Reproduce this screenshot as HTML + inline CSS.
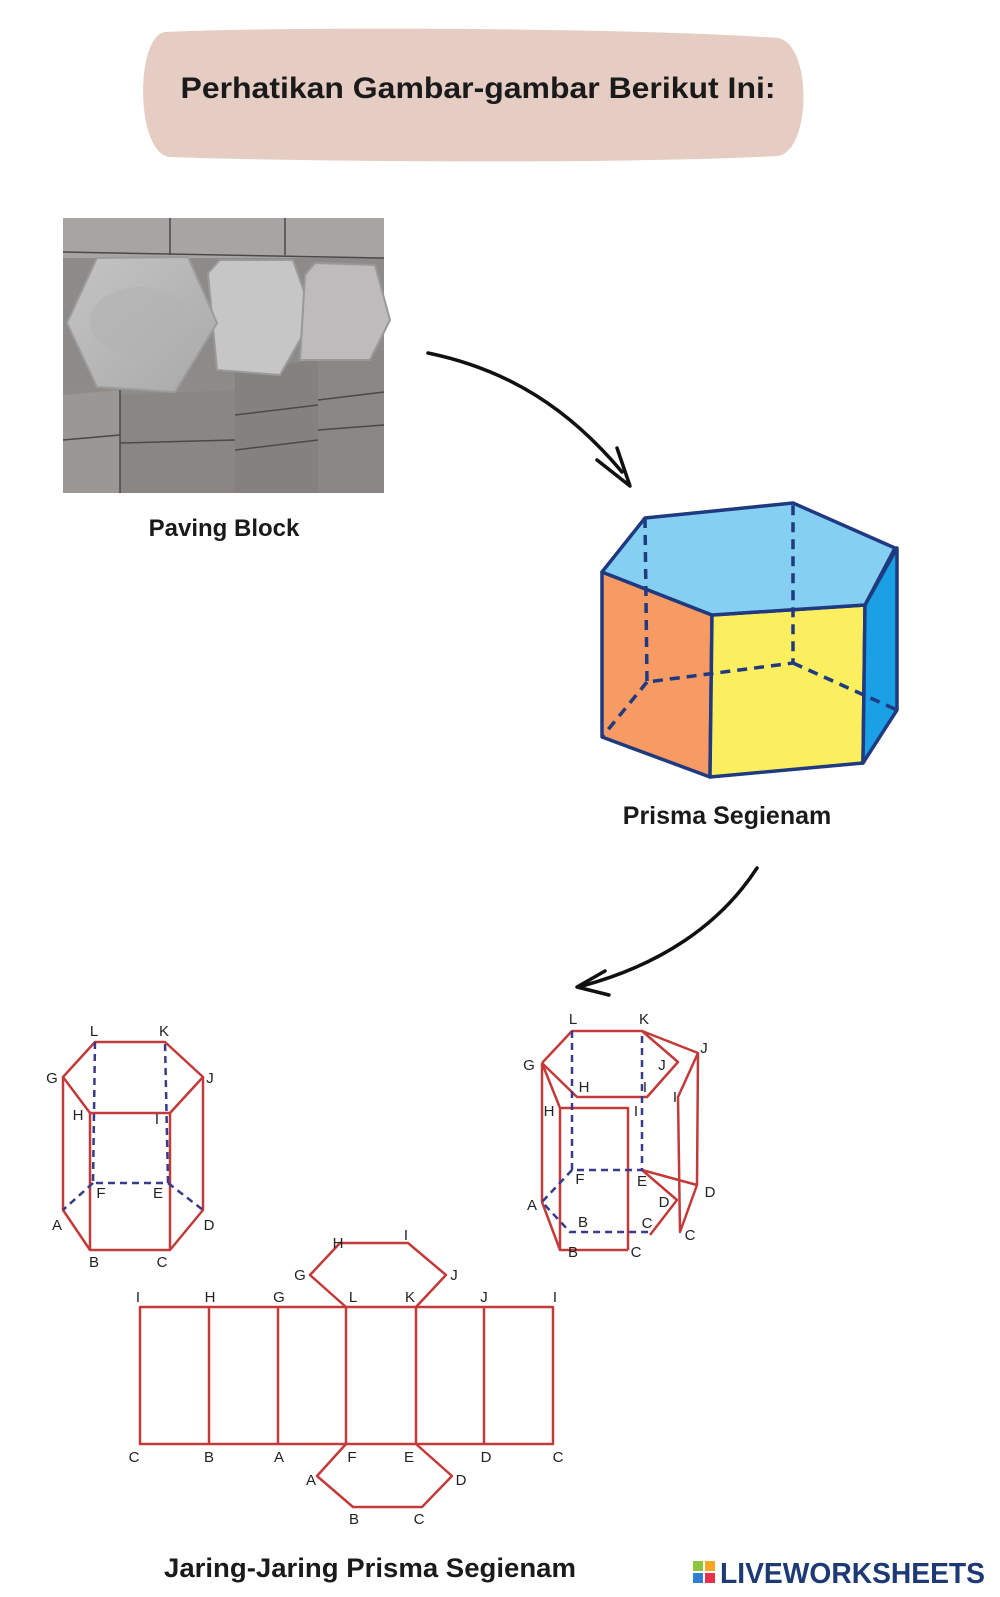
<!DOCTYPE html>
<html><head><meta charset="utf-8"><style>
html,body{margin:0;padding:0;background:#fff}
svg{display:block}
text{font-family:"Liberation Sans",sans-serif}
</style></head><body>
<svg width="1000" height="1597" viewBox="0 0 1000 1597" xmlns="http://www.w3.org/2000/svg">
<defs>
<linearGradient id="hx" x1="0" y1="0" x2="1" y2="1"><stop offset="0" stop-color="#c4c4c4"/><stop offset="1" stop-color="#a9a9a9"/></linearGradient>
</defs>
<!-- title pill -->
<path d="M165 32 C300 26 640 28 778 38 C812 44 812 150 778 156 C640 164 300 162 170 157 C135 154 135 36 165 32Z" fill="#e6cdc4"/>
<text x="478" y="98" font-size="30" font-weight="bold" fill="#1a1a1a" text-anchor="middle" textLength="595" lengthAdjust="spacingAndGlyphs">Perhatikan Gambar-gambar Berikut Ini:</text>

<!-- photo -->
<g>
<rect x="63" y="218" width="321" height="275" fill="#8d8b8a"/>
<rect x="63" y="218" width="321" height="40" fill="#a7a5a4"/>
<rect x="63" y="380" width="321" height="113" fill="#8f8b89"/>
<path d="M63 395 L120 390 L120 493 L63 493Z" fill="#9a9795"/>
<path d="M120 395 L235 390 L235 493 L120 493Z" fill="#8a8684"/>
<path d="M235 370 L318 360 L318 493 L235 493Z" fill="#858180"/>
<path d="M318 355 L384 350 L384 493 L318 493Z" fill="#8b8786"/>
<g stroke="#4a4848" stroke-width="1.5" fill="none">
<path d="M63 440 L120 435 M120 443 L235 440 M235 415 L318 405 M235 450 L318 440 M318 400 L384 392 M318 430 L384 425 M120 390 L120 493 M63 252 L384 258 M170 218 L170 255 M285 218 L285 255"/>
</g>
<polygon points="208,273 220,260 293,260 313,317 280,375 217,370" fill="#c6c6c6" stroke="#9a9a9a" stroke-width="2"/>
<polygon points="305,275 315,263 375,265 390,320 370,360 300,360" fill="#bdbbbb" stroke="#999" stroke-width="2"/>
<polygon points="67,323 97,258 188,257 217,323 175,392 97,387" fill="url(#hx)" stroke="#9c9c9c" stroke-width="2"/>
<ellipse cx="140" cy="322" rx="50" ry="35" fill="#b2b2b2" opacity=".6"/>
</g>
<text x="224" y="536" font-size="24" font-weight="bold" fill="#1a1a1a" text-anchor="middle">Paving Block</text>

<!-- arrow 1 -->
<path d="M428 353 C510 370 570 410 622 472" fill="none" stroke="#111" stroke-width="3.5" stroke-linecap="round"/>
<path d="M597 460 L630 486 L617 448" fill="none" stroke="#111" stroke-width="3.5" stroke-linecap="round" stroke-linejoin="round"/>

<!-- prism -->
<g stroke="#1f3a80" stroke-width="3.5" stroke-linejoin="round">
<polygon points="602,572 712,615 710,777 602,737" fill="#f79a64"/>
<polygon points="712,615 865,605 863,763 710,777" fill="#fbef60"/>
<polygon points="865,605 897,548 897,710 863,763" fill="#1ba0e6"/>
<polygon points="645,518 793,503 895,548 865,605 712,615 602,572" fill="#85cff2"/>
</g>
<g stroke="#1f3a80" stroke-width="3.5" stroke-dasharray="10,7" fill="none">
<path d="M645 518 L647 682 L793 663 L793 503 M647 682 L602 737 M793 663 L897 710"/>
</g>
<text x="727" y="824" font-size="25" font-weight="bold" fill="#1a1a1a" text-anchor="middle">Prisma Segienam</text>

<!-- arrow 2 -->
<path d="M757 868 C720 925 660 965 582 986" fill="none" stroke="#111" stroke-width="3.5" stroke-linecap="round"/>
<path d="M605 971 L577 987 L609 995" fill="none" stroke="#111" stroke-width="3.5" stroke-linecap="round" stroke-linejoin="round"/>

<!-- left prism -->
<g stroke="#c23a3a" stroke-width="2.5" fill="none" stroke-linejoin="round">
<polygon points="95,1042 165,1042 203,1077 170,1113 90,1113 63,1077"/>
<path d="M63 1077 L63 1210 L90 1250 L170 1250 L203 1210 L203 1077 M90 1113 L90 1250 M170 1113 L170 1250"/>
</g>
<g stroke="#3a3a8a" stroke-width="2.5" stroke-dasharray="7,5" fill="none">
<path d="M95 1042 L93 1183 L168 1183 L165 1042 M93 1183 L63 1210 M168 1183 L203 1210"/>
</g>
<g font-size="15" fill="#222" text-anchor="middle">
<text x="94" y="1036">L</text><text x="164" y="1036">K</text><text x="52" y="1083">G</text><text x="210" y="1083">J</text>
<text x="78" y="1120">H</text><text x="157" y="1124">I</text><text x="101" y="1198">F</text><text x="158" y="1198">E</text>
<text x="57" y="1230">A</text><text x="209" y="1230">D</text><text x="94" y="1267">B</text><text x="162" y="1267">C</text>
</g>

<!-- right partially unfolded -->
<g stroke="#c23a3a" stroke-width="2.5" fill="none" stroke-linejoin="round">
<path d="M542 1063 L572 1031 L642 1031 L678 1062 L647 1097 L577 1097 L542 1063"/>
<path d="M642 1031 L698 1053 L697 1185 L642 1170 M698 1053 L678 1097 L680 1232 L697 1185"/>
<path d="M542 1063 L560 1108 L628 1108 L628 1250 M560 1108 L560 1250 M542 1063 L542 1202 L560 1250 L628 1250"/>
<path d="M642 1170 L677 1200 L650 1235"/>
</g>
<g stroke="#3a3a8a" stroke-width="2.5" stroke-dasharray="7,5" fill="none">
<path d="M572 1031 L572 1170 L642 1170 L642 1031 M572 1170 L542 1202 L570 1232 L650 1232"/>
</g>
<g font-size="15" fill="#222" text-anchor="middle">
<text x="573" y="1024">L</text><text x="644" y="1024">K</text><text x="529" y="1070">G</text><text x="704" y="1053">J</text>
<text x="662" y="1070">J</text><text x="584" y="1092">H</text><text x="645" y="1092">I</text><text x="675" y="1102">I</text>
<text x="549" y="1116">H</text><text x="636" y="1116">I</text><text x="580" y="1184">F</text><text x="642" y="1186">E</text>
<text x="532" y="1210">A</text><text x="710" y="1197">D</text><text x="664" y="1207">D</text><text x="583" y="1227">B</text>
<text x="647" y="1228">C</text><text x="690" y="1240">C</text><text x="573" y="1257">B</text><text x="636" y="1257">C</text>
</g>

<!-- net -->
<g stroke="#c23a3a" stroke-width="2.5" fill="none" stroke-linejoin="round">
<rect x="140" y="1307" width="413" height="137"/>
<path d="M209 1307 V1444 M278 1307 V1444 M346 1307 V1444 M416 1307 V1444 M484 1307 V1444"/>
<path d="M346 1307 L310 1275 L340 1243 L408 1243 L446 1275 L416 1307"/>
<path d="M346 1444 L317 1476 L353 1507 L422 1507 L452 1476 L416 1444"/>
</g>
<g font-size="15" fill="#222" text-anchor="middle">
<text x="138" y="1302">I</text><text x="210" y="1302">H</text><text x="279" y="1302">G</text><text x="353" y="1302">L</text>
<text x="410" y="1302">K</text><text x="484" y="1302">J</text><text x="555" y="1302">I</text>
<text x="338" y="1248">H</text><text x="406" y="1240">I</text><text x="300" y="1280">G</text><text x="454" y="1280">J</text>
<text x="134" y="1462">C</text><text x="209" y="1462">B</text><text x="279" y="1462">A</text><text x="352" y="1462">F</text>
<text x="409" y="1462">E</text><text x="486" y="1462">D</text><text x="558" y="1462">C</text>
<text x="311" y="1485">A</text><text x="461" y="1485">D</text><text x="354" y="1524">B</text><text x="419" y="1524">C</text>
</g>
<text x="370" y="1577" font-size="27" font-weight="bold" fill="#1a1a1a" text-anchor="middle" textLength="412" lengthAdjust="spacingAndGlyphs">Jaring-Jaring Prisma Segienam</text>

<!-- logo -->
<rect x="693" y="1561" width="10" height="10" fill="#8cc63e"/>
<rect x="705" y="1561" width="10" height="10" fill="#f7a823"/>
<rect x="693" y="1573" width="10" height="10" fill="#2f7fd2"/>
<rect x="705" y="1573" width="10" height="10" fill="#e8304a"/>
<text x="720" y="1583" font-size="29" font-weight="bold" fill="#1d3a75" textLength="265" lengthAdjust="spacingAndGlyphs">LIVEWORKSHEETS</text>
</svg>
</body></html>
